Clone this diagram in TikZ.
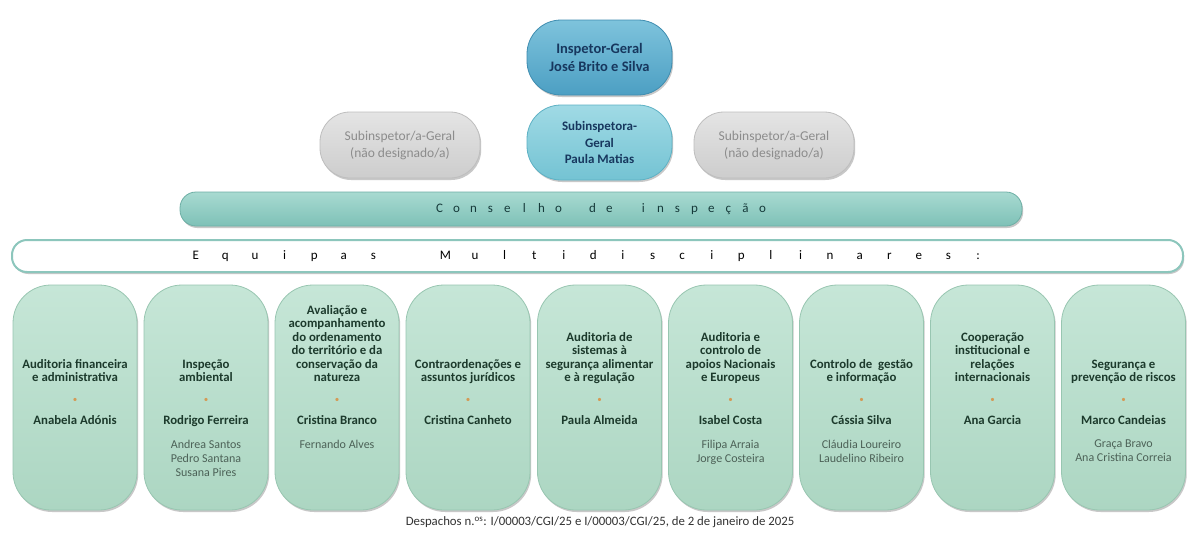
\documentclass[tikz,border=0pt]{standalone}
\usepackage{fontspec}
\setmainfont{Carlito}
\usetikzlibrary{shadows}
\definecolor{igtop}{HTML}{7EC3DC}
\definecolor{igbot}{HTML}{4C9FC3}
\definecolor{igline}{HTML}{3F8DB0}
\definecolor{subtop}{HTML}{A0DAE5}
\definecolor{subbot}{HTML}{74C3D3}
\definecolor{subline}{HTML}{5DB1C4}
\definecolor{graytop}{HTML}{E4E4E4}
\definecolor{graybot}{HTML}{CDCDCD}
\definecolor{grayline}{HTML}{BEBEBE}
\definecolor{graytext}{HTML}{8C8C8C}
\definecolor{navytext}{HTML}{17375E}
\definecolor{constop}{HTML}{A8DAD1}
\definecolor{consbot}{HTML}{7EC1B7}
\definecolor{consline}{HTML}{6DAFA5}
\definecolor{constext}{HTML}{163A3A}
\definecolor{eqline}{HTML}{8CC6BC}
\definecolor{teamtop}{HTML}{C6E6D7}
\definecolor{teambot}{HTML}{ACD6C2}
\definecolor{teamline}{HTML}{98C6B1}
\definecolor{teamtext}{HTML}{1C3A2C}
\definecolor{teamsub}{HTML}{4C6157}
\definecolor{bulletc}{HTML}{D49A55}
\makeatletter
\newcommand\spacedtext[2]{\@tfor\sp@ch:=#2\do{\makebox[#1]{\sp@ch}}}
\makeatother
\begin{document}
\begin{tikzpicture}[x=1pt,y=-1pt,
  shad/.style={drop shadow={shadow xshift=1.2pt,shadow yshift=-2pt,opacity=0.3,fill=black!70}},
  igbox/.style={shad,draw=igline,line width=0.8pt,top color=igtop,bottom color=igbot,
    minimum width=145pt,minimum height=75pt,rounded corners=34pt,inner sep=0pt,align=center,
    text=navytext,font=\bfseries\fontsize{14.5}{18}\selectfont},
  subbox/.style={shad,draw=subline,line width=0.8pt,top color=subtop,bottom color=subbot,
    minimum width=145pt,minimum height=75pt,rounded corners=34pt,inner sep=0pt,align=center,
    text=navytext,font=\bfseries\fontsize{13}{16.5}\selectfont},
  graybox/.style={shad,draw=grayline,line width=0.8pt,top color=graytop,bottom color=graybot,
    minimum width=160pt,minimum height=66pt,rounded corners=30pt,inner sep=0pt,align=center,
    text=graytext,font=\fontsize{13.5}{17}\selectfont},
  consbar/.style={shad,draw=consline,line width=0.8pt,top color=constop,bottom color=consbot,
    minimum width=842pt,minimum height=34pt,rounded corners=16pt,inner sep=0pt},
  eqbar/.style={shad,draw=eqline,line width=2pt,fill=white,
    minimum width=1171pt,minimum height=32pt,rounded corners=15pt,inner sep=0pt},
  teambox/.style={shad,draw=teamline,line width=0.8pt,top color=teamtop,bottom color=teambot,
    minimum width=124pt,minimum height=225pt,rounded corners=38pt,inner sep=0pt},
  teamtitle/.style={anchor=base,inner sep=0pt,align=center,text=teamtext,
    font=\bfseries\fontsize{12.8}{13.4}\selectfont},
  teambullet/.style={inner sep=0pt,text=bulletc,font=\fontsize{9}{9}\selectfont},
  teamlead/.style={anchor=base,inner sep=0pt,text=teamtext,font=\bfseries\fontsize{12.8}{13.4}\selectfont},
  teamothers/.style={anchor=north,inner sep=0pt,align=center,text=teamsub,
    font=\fontsize{12}{14}\selectfont},
  footer/.style={inner sep=0pt,text=black!80,font=\fontsize{12.8}{14}\selectfont}
]
\useasboundingbox (0,0) rectangle (1194,533);
\fill[white] (0,0) rectangle (1194,533);

\node[igbox] (ig) at (599.5,57.5) {Inspetor-Geral\\José Brito e Silva};
\node[subbox] (sub) at (599.5,142.5) {Subinspetora-\\Geral\\Paula Matias};
\node[graybox] (gl) at (400,145) {Subinspetor/a-Geral\\(não designado/a)};
\node[graybox] (gr) at (774,145) {Subinspetor/a-Geral\\(não designado/a)};

\node[consbar] (cons) at (601,209) {};
\node[text=constext,inner sep=0pt,font=\fontsize{13}{14}\selectfont] (conslabel) at (cons.center)
  {\spacedtext{17pt}{Conselho}\hspace{17pt}\spacedtext{17pt}{de}\hspace{17pt}\spacedtext{17pt}{inspeção}};

\node[eqbar] (eq) at (597.5,256) {};
\node[text=black,inner sep=0pt,font=\fontsize{13}{14}\selectfont] (eqlabel) at (587,256)
  {\spacedtext{29.6pt}{Equipas}\hspace{42.4pt}\spacedtext{29.6pt}{Multidisciplinares:}};

\newcommand\team[5]{%
  \node[teambox] (#1) at (#2,397.5) {};
  \node[teamtitle] (#1t) at (#2,381.5) {\vbox{\halign{\hfil##\hfil\cr#3\crcr}}};
  \node[teambullet] (#1b) at (#2,400) {•};
  \node[teamlead] (#1l) at (#2,424.5) {#4};
  \node[teamothers] (#1o) at (#2,440) {#5};
}
\team{t1}{75}{Auditoria financeira\cr e administrativa}{Anabela Adónis}{}
\team{t2}{206}{Inspeção\cr ambiental}{Rodrigo Ferreira}{Andrea Santos\\Pedro Santana\\Susana Pires}
\team{t3}{337}{Avaliação e\cr acompanhamento\cr do ordenamento\cr do território e da\cr conservação da\cr natureza}{Cristina Branco}{Fernando Alves}
\team{t4}{468}{Contraordenações e\cr assuntos jurídicos}{Cristina Canheto}{}
\team{t5}{599.5}{Auditoria de\cr sistemas à\cr segurança alimentar\cr e à regulação}{Paula Almeida}{}
\team{t6}{730.5}{Auditoria e\cr controlo de\cr apoios Nacionais\cr e Europeus}{Isabel Costa}{Filipa Arraia\\Jorge Costeira}
\team{t7}{861.5}{Controlo de~ gestão\cr e informação}{Cássia Silva}{Cláudia Loureiro\\Laudelino Ribeiro}
\team{t8}{992.5}{Cooperação\cr institucional e\cr relações\cr internacionais}{Ana Garcia}{}
\team{t9}{1123.5}{Segurança e\cr prevenção de riscos}{Marco Candeias}{Graça Bravo\\Ana Cristina Correia}

\node[footer] (foot) at (600,522) {Despachos n.\textsuperscript{os}: I/00003/CGI/25 e I/00003/CGI/25, de 2 de janeiro de 2025};
\end{tikzpicture}
\end{document}
